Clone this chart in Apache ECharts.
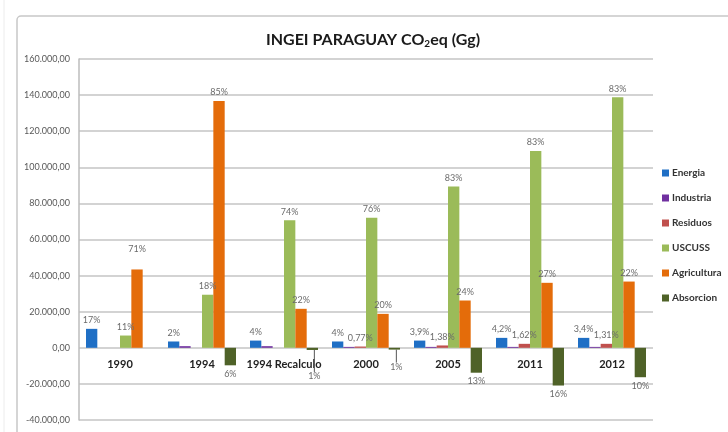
<!DOCTYPE html>
<html>
<head>
<meta charset="utf-8">
<script src="https://cdn.jsdelivr.net/npm/echarts@6/dist/echarts.min.js"></script>
<style>
  html, body {margin: 0; padding: 0; background: #fff;}
  #chart {width: 728px; height: 432px;}
</style>
</head>
<body>
<div id="chart"></div>
<script>
// datos (Gg CO2eq)
var categorias = ['1990', '1994', '1994 Recalculo', '2000', '2005', '2011', '2012']
var energia = [10500, 3500, 4000, 3500, 4000, 5500, 5500]
var industria = [0, 900, 900, 500, 500, 500, 500]
var residuos = [0, 0, 0, 700, 1300, 2200, 2200]
var uscuss = [6800, 29400, 70700, 72000, 89300, 109000, 138800]
var agricultura = [43400, 136800, 21600, 18800, 26200, 36000, 36700]
var absorcion = [0, -9700, -1200, -1000, -13800, -20900, -16300]

// porcentajes escritos sobre las barras
var pctEnergia = ['17%', '2%', '4%', '4%', '3,9%', '4,2%', '3,4%']
var pctResiduos = ['', '', '', '0,77%', '1,38%', '1,62%', '1,31%']
var pctUscuss = ['11%', '18%', '74%', '76%', '83%', '83%', '83%']
var pctAgricultura = ['71%', '85%', '22%', '20%', '24%', '27%', '22%']
var pctAbsorcion = ['', '6%', '1%', '1%', '13%', '16%', '10%']

var ejeY = {min: -40000, max: 160000, interval: 20000}

function formatoEs (v) {
  var s = Math.abs(v).toString().replace(/\B(?=(\d{3})+(?!\d))/g, '.')
  return (v < 0 ? '-' : '') + s + ',00'
}

var fuente = 'Lato, "Noto Sans", sans-serif'

function serie (nombre, datos, color, pct, pos) {
  var s = {
    name: nombre,
    type: 'bar',
    data: datos,
    itemStyle: {color: color},
    barGap: 0,
    barCategoryGap: '17%'
  }
  if (pct) {
    s.label = {
      show: true,
      position: pos || 'top',
      distance: 4,
      fontFamily: fuente,
      fontSize: 9,
      color: '#6b6b6b',
      formatter: function (p) { return pct[p.dataIndex] }
    }
  }
  return s
}

var series = [
  serie('Energia', energia, '#1F6FC5', pctEnergia),
  serie('Industria', industria, '#7030A0'),
  serie('Residuos', residuos, '#C0504D', pctResiduos),
  serie('USCUSS', uscuss, '#9BBB59', pctUscuss),
  serie('Agricultura', agricultura, '#E46C0A', pctAgricultura),
  serie('Absorcion', absorcion.map(function (v, i) {
    // linea guia solo en las absorciones muy pequenas
    return {value: v, labelLine: {show: i === 2 || i === 3, lineStyle: {color: '#555', width: 1}}}
  }), '#4F6228', pctAbsorcion, 'bottom')
]
// ajustes de etiquetas como en el original
series[4].labelLayout = function (p) {
  return p.dataIndex === 0 ? {dy: -12} : {}
}
series[5].labelLayout = function (p) {
  if (p.dataIndex === 2) return {dx: 2, dy: 18}
  if (p.dataIndex === 3) return {dx: 2, dy: 9}
  return {}
}

var option = {
  backgroundColor: '#fff',
  animation: false,
  textStyle: {fontFamily: fuente},
  title: {
    text: '{t|INGEI PARAGUAY CO}{s|2}{t|eq (Gg)}',
    left: 368,
    top: 26,
    textAlign: 'center',
    textStyle: {
      rich: {
        t: {fontFamily: fuente, fontSize: 16, fontWeight: 'bold', color: '#1a1a1a'},
        s: {fontFamily: fuente, fontSize: 10, fontWeight: 'bold', color: '#1a1a1a', verticalAlign: 'bottom', padding: [8, 0, 0, 0]}
      }
    }
  },
  legend: {
    orient: 'vertical',
    left: 657,
    top: 163,
    icon: 'rect',
    itemWidth: 7,
    itemHeight: 7,
    itemGap: 15,
    textStyle: {fontFamily: fuente, fontSize: 10, fontWeight: 'bold', color: '#333', padding: [0, 0, 0, -2]},
    data: ['Energia', 'Industria', 'Residuos', 'USCUSS', 'Agricultura', 'Absorcion']
  },
  grid: {left: 79, right: 75, top: 59, bottom: 12, containLabel: false},
  xAxis: {
    type: 'category',
    data: categorias,
    position: 'bottom',
    offset: -72,
    axisLine: {show: false, onZero: false},
    axisTick: {show: false},
    axisLabel: {interval: 0, fontFamily: fuente, fontSize: 11, fontWeight: 'bold', color: '#222', margin: 11}
  },
  yAxis: {
    type: 'value',
    min: ejeY.min,
    max: ejeY.max,
    interval: ejeY.interval,
    axisLine: {show: true, lineStyle: {color: '#bdbdbd', width: 1.5}},
    axisTick: {show: false},
    splitLine: {lineStyle: {color: '#c4c4c4', width: 1.5}},
    axisLabel: {fontFamily: fuente, fontSize: 9, color: '#595959', margin: 9, formatter: formatoEs}
  },
  graphic: [
    {type: 'line', shape: {x1: 4, y1: 0, x2: 4, y2: 432}, style: {stroke: '#ececec', lineWidth: 1}},
    {type: 'rect', shape: {x: 17, y: 16, width: 760, height: 460, r: 4}, style: {fill: 'none', stroke: '#c8c8c8', lineWidth: 1.5}}
  ],
  series: series
}

var chart = echarts.init(document.getElementById('chart'))
chart.setOption(option)
</script>
</body>
</html>
